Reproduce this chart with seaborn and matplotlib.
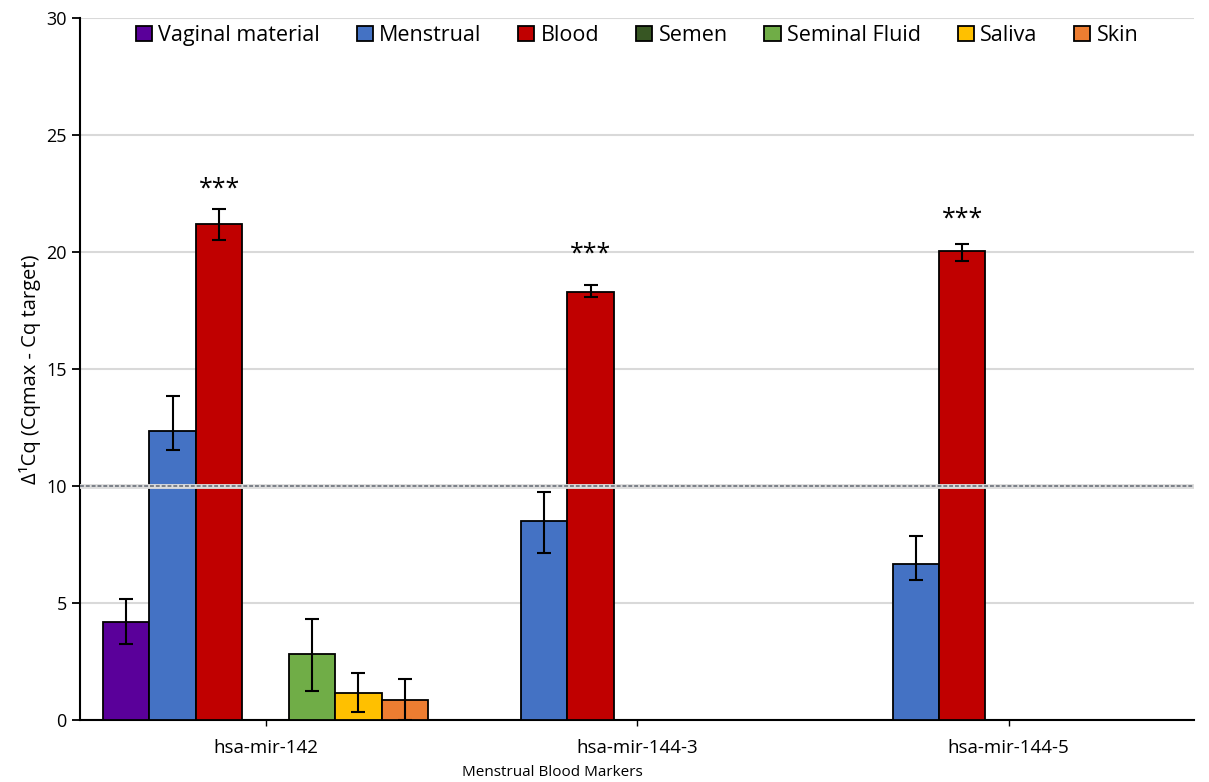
import pandas as pd
import matplotlib.pyplot as plt
import seaborn as sns

sns.set_theme(style='white')
plt.rcParams['font.family'] = ['Open Sans', 'DejaVu Sans']
plt.rcParams['text.color'] = 'black'

markers = ['hsa-mir-142', 'hsa-mir-144-3', 'hsa-mir-144-5']
fluids = ['Vaginal material', 'Menstrual', 'Blood', 'Semen',
          'Seminal Fluid', 'Saliva', 'Skin']
colors = ['#5A009A', '#4472C4', '#C00000', '#375623',
          '#70AD47', '#FFC000', '#ED7D31']

# mean values per fluid, one entry per marker
vaginal = [4.2, 0, 0]
menstrual = [12.35, 8.5, 6.65]
blood = [21.2, 18.3, 20.05]
semen = [0, 0, 0]
seminal = [2.8, 0, 0]
saliva = [1.15, 0, 0]
skin = [0.87, 0, 0]

# error bar ends (lower, upper)
err_low = {
    'Vaginal material': [3.25, 0, 0],
    'Menstrual': [11.55, 7.15, 6.0],
    'Blood': [20.5, 18.05, 19.6],
    'Semen': [0, 0, 0],
    'Seminal Fluid': [1.25, 0, 0],
    'Saliva': [0.32, 0, 0],
    'Skin': [0.0, 0, 0],
}
err_high = {
    'Vaginal material': [5.18, 0, 0],
    'Menstrual': [13.85, 9.75, 7.85],
    'Blood': [21.85, 18.6, 20.35],
    'Semen': [0, 0, 0],
    'Seminal Fluid': [4.3, 0, 0],
    'Saliva': [2.0, 0, 0],
    'Skin': [1.75, 0, 0],
}
star_y = [22.7, 19.9, 21.4]
threshold = 10

values = [vaginal, menstrual, blood, semen, seminal, saliva, skin]
rows = []
for fluid, vals in zip(fluids, values):
    for m, v in zip(markers, vals):
        rows.append({'marker': m, 'fluid': fluid, 'dcq': v})
df = pd.DataFrame(rows)

fig = plt.figure(figsize=(12.09, 7.82), dpi=100)
ax = fig.add_axes([0.066, 0.0793, 0.922, 0.898])

sns.barplot(data=df, x='marker', y='dcq', hue='fluid', hue_order=fluids,
            order=markers, palette=colors, width=0.875, saturation=1,
            edgecolor='black', linewidth=1.3, errorbar=None, ax=ax, zorder=3)

# asymmetric error bars at bar centres
for fluid, cont in zip(fluids, ax.containers):
    for k, bar in enumerate(cont):
        lo, hi = err_low[fluid][k], err_high[fluid][k]
        if hi == 0:
            continue
        h = bar.get_height()
        xc = bar.get_x() + bar.get_width() / 2
        ax.errorbar(xc, h, yerr=[[h - lo], [hi - h]], fmt='none',
                    ecolor='black', elinewidth=1.5, capsize=5,
                    capthick=1.5, zorder=4)

blood_bars = ax.containers[fluids.index('Blood')]
for bar, sy in zip(blood_bars, star_y):
    xc = bar.get_x() + bar.get_width() / 2
    ax.text(xc, sy, '***', ha='center', va='center', fontsize=18,
            color='black', zorder=5)

ax.axhline(threshold, color='#dcdcdc', lw=3.5, zorder=5)
ax.axhline(threshold, color='#7b8088', lw=1.4, ls=(0, (2, 1)), zorder=6)

ax.set_xlim(-0.5, 2.5)
ax.set_ylim(0, 30)
ax.set_yticks(range(0, 31, 5))
ax.yaxis.grid(True, color='#D9D9D9', lw=1.5, zorder=0)
ax.set_axisbelow(True)
for s in ['top', 'right']:
    ax.spines[s].set_visible(False)
for s in ['left', 'bottom']:
    ax.spines[s].set_color('black')
    ax.spines[s].set_linewidth(1.5)
ax.tick_params(axis='y', left=True, length=6, width=1.3, labelsize=13,
               colors='black')
ax.tick_params(axis='x', bottom=True, length=4, width=1, labelsize=13.5,
               colors='black', pad=10)

ax.set_ylabel('Δ¹Cq (Cqmax - Cq target)', fontsize=14.5, color='black')
ax.set_xlabel('')
fig.text(0.457, 0.003, 'Menstrual Blood Markers', ha='center', va='bottom',
         fontsize=11, color='black')

ax.legend(loc='upper center', bbox_to_anchor=(0.5, 1.008), ncol=7,
          frameon=False, fontsize=15.5, handlelength=0.75, handleheight=0.75,
          handletextpad=0.3, columnspacing=1.7, borderaxespad=0.2)

fig.savefig('out.png', dpi=100)
